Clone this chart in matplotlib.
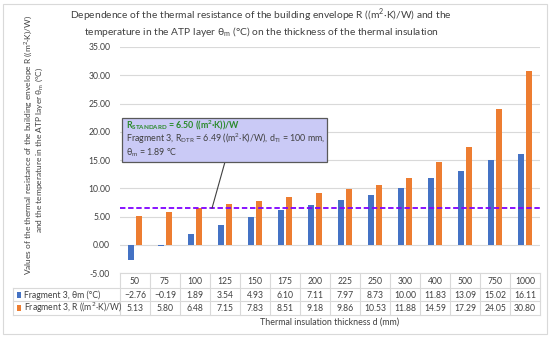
"""Thermal resistance R and ATP-layer temperature vs insulation thickness (bar chart + data table)."""
import matplotlib
matplotlib.use("Agg")
import matplotlib.pyplot as plt
import matplotlib.transforms as mtransforms
from matplotlib.patches import Rectangle, FancyBboxPatch
import numpy as np

plt.rcParams["font.family"] = ["Lato", "DejaVu Sans"]

thickness = [50, 75, 100, 125, 150, 175, 200, 225, 250, 300, 400, 500, 750, 1000]
theta_m = [-2.76, -0.19, 1.89, 3.54, 4.93, 6.10, 7.11, 7.97, 8.73, 10.00, 11.83, 13.09, 15.02, 16.11]
r_value = [5.13, 5.80, 6.48, 7.15, 7.83, 8.51, 9.18, 9.86, 10.53, 11.88, 14.59, 17.29, 24.05, 30.80]
r_standard = 6.50
yticks = [-5, 0, 5, 10, 15, 20, 25, 30, 35]

series_labels = ["Fragment 3, θm (°C)", "Fragment 3, R ((m$^2$·K)/W)"]
BLUE = "#4472C4"
ORANGE = "#ED7D31"
TXT = "#404040"

fig = plt.figure(figsize=(5.5, 3.38), dpi=100)
fig.patch.set_facecolor("white")
ax = fig.add_axes([0.218, 0.192, 0.764, 0.669])

x = np.arange(len(thickness))
w = 0.21
ax.bar(x - 0.14, theta_m, width=w, color=BLUE, zorder=3)
ax.bar(x + 0.14, r_value, width=w, color=ORANGE, zorder=3)

ax.axhline(r_standard, color="#7F00FF", linestyle=(0, (3, 1.5)), linewidth=1.3, zorder=4)

ax.set_xlim(-0.5, len(thickness) - 0.5)
ax.set_ylim(yticks[0], yticks[-1])
ax.set_yticks(yticks)
ax.set_yticklabels([f"{v:.2f}" for v in yticks], fontsize=6.2, color=TXT)
ax.set_xticks([])
ax.tick_params(axis="y", length=0, pad=7)
ax.grid(axis="y", color="#D9D9D9", linewidth=0.8, zorder=0)
for s in ax.spines.values():
    s.set_visible(False)

# annotation box
ax.add_patch(Rectangle((-0.43, 14.65), 6.83, 7.75, facecolor="#CACAF6",
                       edgecolor="#595959", linewidth=0.9, zorder=6))
ax.text(-0.3, 21.2, r"R$_{\mathregular{STANDARD}}$ = 6.50 ((m$^{\mathregular{2}}$·K))/W",
        color="#2A8A2A", fontsize=6.4, fontweight="bold", va="center", zorder=7)
ax.text(-0.3, 18.7, r"Fragment 3, R$_{\mathregular{DTR}}$ = 6.49 ((m$^{\mathregular{2}}$·K)/W), d$_{\mathregular{TI}}$ = 100 mm,",
        color=TXT, fontsize=6.4, va="center", zorder=7)
ax.text(-0.3, 16.3, r"θ$_{\mathregular{m}}$ = 1.89 °C", color=TXT, fontsize=6.4, va="center", zorder=7)
ax.plot([3.0, thickness.index(100) + 0.57], [14.65, r_standard], color="#404040", linewidth=0.8, zorder=5)

# data table below the axes
tr = ax.get_xaxis_transform()
row_lines = [0.0, -0.066, -0.124, -0.186]
row_text = [-0.035, -0.097, -0.155]
for xi, d in zip(x, thickness):
    ax.text(xi, row_text[0], str(d), transform=tr, ha="center", va="center",
            fontsize=6.2, color=TXT, clip_on=False)
for xi, v in zip(x, theta_m):
    ax.text(xi, row_text[1], f"{v:.2f}".replace("-", "−"), transform=tr, ha="center",
            va="center", fontsize=6.2, color=TXT, clip_on=False)
for xi, v in zip(x, r_value):
    ax.text(xi, row_text[2], f"{v:.2f}", transform=tr, ha="center", va="center",
            fontsize=6.2, color=TXT, clip_on=False)

grid_kw = dict(color="#D9D9D9", linewidth=0.8, clip_on=False)
ax.plot([-0.5, len(thickness) - 0.5], [0, 0], transform=tr, **grid_kw)
for k in range(len(thickness) + 1):
    ax.plot([k - 0.5, k - 0.5], [row_lines[0], row_lines[-1]], transform=tr, **grid_kw)

bt = mtransforms.blended_transform_factory(fig.transFigure, ax.transAxes)
x0, x1 = 13 / 550, 0.982
for yl in row_lines[1:]:
    ax.plot([x0, x1], [yl, yl], transform=bt, **grid_kw)
ax.plot([x0, x0], [row_lines[1], row_lines[-1]], transform=bt, **grid_kw)
for yt, lab, c in zip(row_text[1:], series_labels, [BLUE, ORANGE]):
    ax.add_patch(Rectangle((17 / 550, yt - 0.012), 4 / 550, 0.024, transform=bt,
                           facecolor=c, edgecolor="none", clip_on=False))
    ax.text(24 / 550, yt, lab, transform=bt, va="center", fontsize=6.2, color=TXT, clip_on=False)

fig.text(0.6, 0.047, "Thermal insulation thickness d (mm)", ha="center", va="center",
         fontsize=6.4, color=TXT)

# y-axis title, two rotated lines
fig.text(28 / 550, 1 - 145 / 338,
         "Values of the thermal resistance of the building envelope R ((m$^{\\mathregular{2}}$·K)/W)",
         rotation=90, ha="center", va="center", fontsize=6.0, color=TXT)
fig.text(39 / 550, 1 - 150 / 338,
         "and the temperature in the ATP layer θ$_{\\mathregular{m}}$ (°C)",
         rotation=90, ha="center", va="center", fontsize=6.0, color=TXT)

# chart title, two lines
fig.text(0.475, 1 - 15.5 / 338,
         "Dependence of the thermal resistance of the building envelope R ((m$^{\\mathregular{2}}$·K)/W) and the",
         ha="center", va="center", fontsize=7.4, color=TXT)
fig.text(0.475, 1 - 32 / 338,
         "temperature in the ATP layer θ$_{\\mathregular{m}}$ (°C) on the thickness of the thermal insulation",
         ha="center", va="center", fontsize=7.4, color=TXT)

fig.add_artist(FancyBboxPatch((3 / 550, 4 / 338), 544 / 550, 330 / 338, boxstyle="square,pad=0",
                              transform=fig.transFigure, facecolor="none",
                              edgecolor="#D9D9D9", linewidth=0.8))

fig.savefig("out.png", dpi=100)
